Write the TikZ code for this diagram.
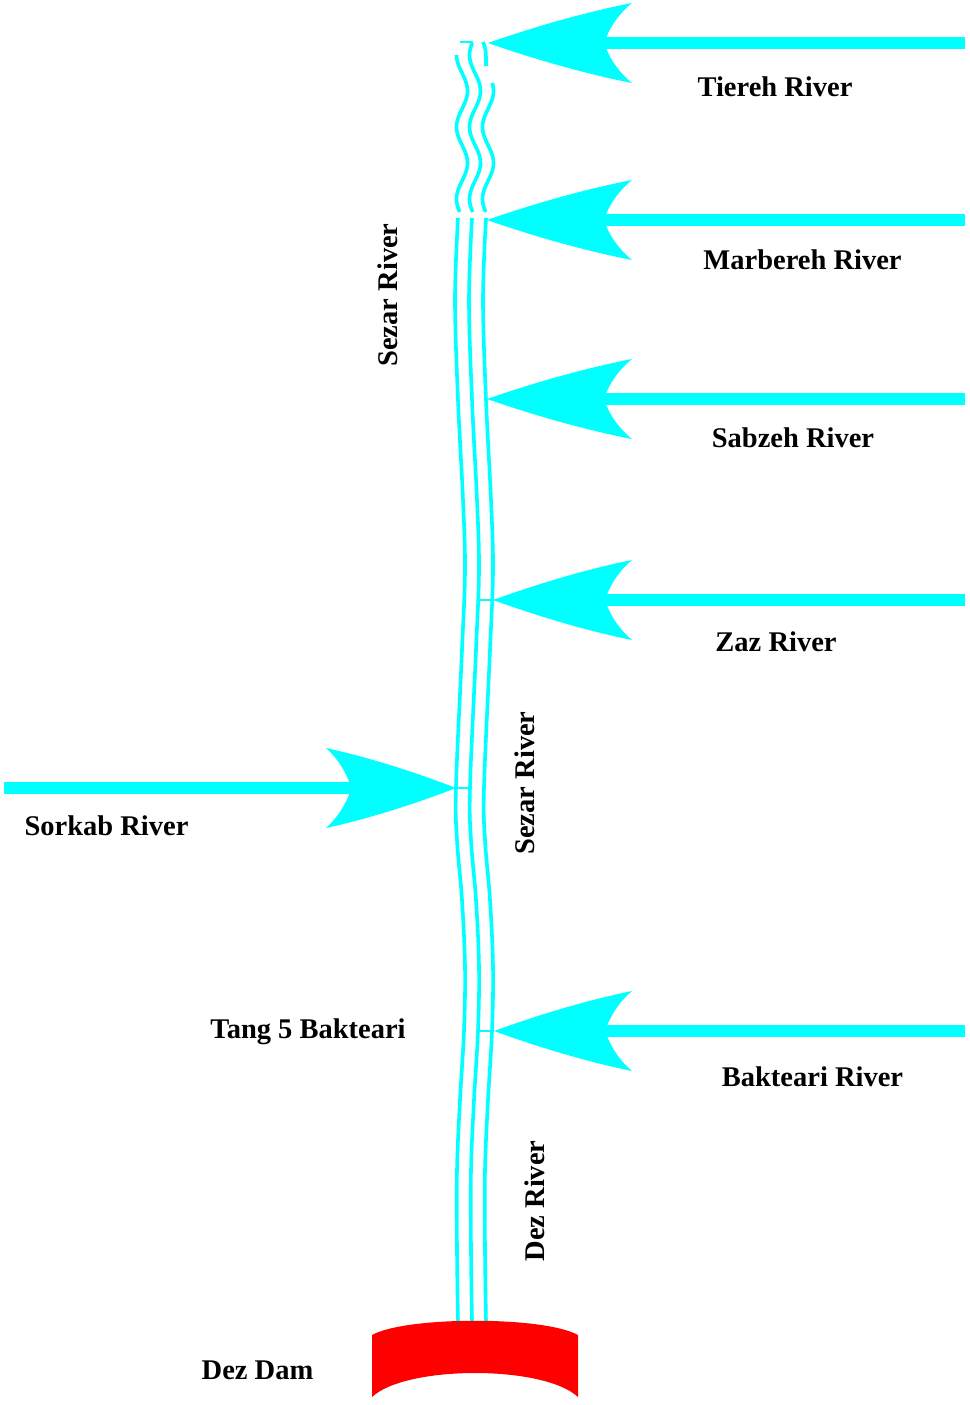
\documentclass[tikz,border=0pt]{standalone}
\usepackage{fontspec}
\setmainfont{Liberation Serif}
\definecolor{rivcyan}{RGB}{0,255,255}
\definecolor{damred}{RGB}{255,0,0}
\newcommand\rivhead[2]{%
  \fill[rivcyan, shift={(#1)}, xscale=#2/140]
    (0,0) .. controls (50,-18) and (100,-32) .. (140,-40)
    .. controls (128,-30) and (120,-18) .. (115,-6)
    -- (115,6)
    .. controls (120,18) and (128,30) .. (140,40)
    .. controls (100,32) and (50,18) .. (0,0) -- cycle;}
\newcommand\leftbank{(458,218) (455,300) (458,400) (463,500) (465,570) (462,650) (456,787) (457,840) (462,900) (465,967) (464,1031) (460,1100) (457,1170) (457,1250) (458,1322)}
\begin{document}
\begin{tikzpicture}[x=1pt,y=-1pt,
  riv/.style={draw=rivcyan, line width=3.6pt},
  shaft/.style={draw=rivcyan, line width=12.5pt, shorten >=70pt},
  joint/.style={draw=rivcyan, line width=1.5pt},
  lbl/.style={font=\fontsize{28.5}{31}\selectfont\bfseries, inner sep=0pt, anchor=base},
]
\useasboundingbox (0,0) rectangle (969,1405);

% ---- Sezar / Dez river (three thin lines) ----
% wavy upper reach
\draw[riv] plot[domain=55:212, samples=60, variable=\t] ({462-5.5*cos(5*(\t-55))}, {\t});
\draw[riv] plot[domain=43:212, samples=60, variable=\t] ({475-5.5*cos(5*(\t-55))}, {\t});
\draw[riv] plot[domain=83:212, samples=60, variable=\t] ({488-5.5*cos(5*(\t-55))}, {\t});
\draw[riv] (483,42) .. controls (486,50) .. (486,66);
\draw[joint] (460,42) -- (473,42);
% lower reach
\draw[riv] plot[smooth, tension=0.6] coordinates {\leftbank};
\draw[riv, xshift=14pt] plot[smooth, tension=0.6] coordinates {\leftbank};
\draw[riv, xshift=28pt] plot[smooth, tension=0.6] coordinates {\leftbank};

% ---- tributary arrows ----
\coordinate (sTiereh) at (965,43);    \coordinate (tTiereh) at (488,43);
\coordinate (sMarbereh) at (965,220); \coordinate (tMarbereh) at (487,220);
\coordinate (sSabzeh) at (965,399);   \coordinate (tSabzeh) at (487,399);
\coordinate (sZaz) at (965,600);      \coordinate (tZaz) at (493,600);
\coordinate (sSorkab) at (4,788);     \coordinate (tSorkab) at (456,788);
\coordinate (sBakteari) at (965,1031);\coordinate (tBakteari) at (494,1031);
\coordinate (jZaz) at (478,600);
\coordinate (jSorkab) at (469,788);
\coordinate (jBakteari) at (478,1031);

\draw[shaft] (sTiereh) -- (tTiereh);     \rivhead{tTiereh}{144}
\draw[shaft] (sMarbereh) -- (tMarbereh); \rivhead{tMarbereh}{145}
\draw[shaft] (sSabzeh) -- (tSabzeh);     \rivhead{tSabzeh}{145}
\draw[shaft] (sZaz) -- (tZaz);           \rivhead{tZaz}{139}
\draw[joint] (jZaz) -- (tZaz);
\draw[shaft] (sSorkab) -- (tSorkab);     \rivhead{tSorkab}{-130}
\draw[joint] (tSorkab) -- (jSorkab);
\draw[shaft] (sBakteari) -- (tBakteari); \rivhead{tBakteari}{138}
\draw[joint] (jBakteari) -- (tBakteari);

% ---- Dez Dam ----
\fill[damred] (372,1335) .. controls (406,1316) and (544,1316) .. (578,1335)
  -- (578,1397) .. controls (544,1365) and (406,1365) .. (372,1397) -- cycle;

% ---- labels ----
\node[lbl] (lTiereh)   at (775,96)   {Tiereh River};
\node[lbl] (lMarbereh) at (802.5,269) {Marbereh River};
\node[lbl] (lSabzeh)   at (793,447)  {Sabzeh River};
\node[lbl] (lZaz)      at (776,651)  {Zaz River};
\node[lbl] (lSorkab)   at (106.5,835) {Sorkab River};
\node[lbl] (lTang)     at (308,1038) {Tang 5 Bakteari};
\node[lbl] (lBakteari) at (812.5,1086) {Bakteari River};
\node[lbl] (lDam)      at (257.5,1379) {Dez Dam};
\node[lbl, rotate=90] (lSezarA) at (397,295) {Sezar River};
\node[lbl, rotate=90] (lSezarB) at (534,783) {Sezar River};
\node[lbl, rotate=90] (lDez)    at (544,1201) {Dez River};
\end{tikzpicture}
\end{document}
